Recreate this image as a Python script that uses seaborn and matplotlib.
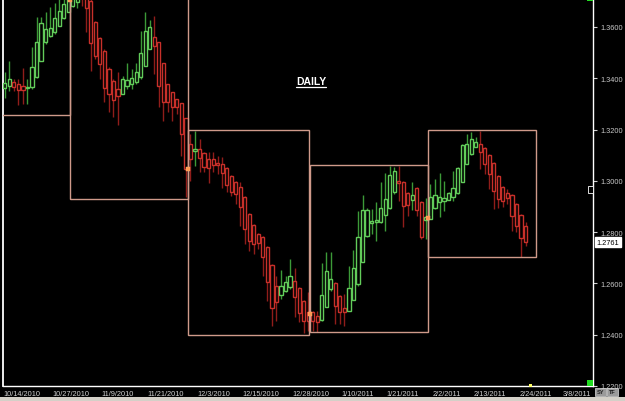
import numpy as np
import pandas as pd
import matplotlib
matplotlib.use('Agg')
import matplotlib.pyplot as plt
import seaborn as sns
from matplotlib.patches import Rectangle

# ---------------- data (EUR/USD daily candles) ----------------
opens = [1.3362, 1.3370, 1.3385, 1.3378, 1.3370, 1.3362, 1.3366, 1.3405, 1.3467, 1.3541,
         1.3565, 1.3580, 1.3604, 1.3635, 1.3658, 1.3682, 1.3697, 1.3732, 1.3717, 1.3701,
         1.3619, 1.3557, 1.3506, 1.3436, 1.3389, 1.3358, 1.3339, 1.3370, 1.3378, 1.3385,
         1.3405, 1.3448, 1.3514, 1.3561, 1.3541, 1.3459, 1.3378, 1.3346, 1.3319, 1.3303,
         1.3245, 1.3144, 1.3116, 1.3124, 1.3108, 1.3085, 1.3085, 1.3069, 1.3066, 1.3050,
         1.3019, 1.2995, 1.2976, 1.2937, 1.2871, 1.2828, 1.2793, 1.2781, 1.2742, 1.2672,
         1.2590, 1.2555, 1.2570, 1.2586, 1.2609, 1.2582, 1.2531, 1.2488, 1.2488, 1.2473,
         1.2457, 1.2508, 1.2578, 1.2601, 1.2551, 1.2504, 1.2492, 1.2535, 1.2598, 1.2683,
         1.2785, 1.2835, 1.2839, 1.2839, 1.2867, 1.2894, 1.2956, 1.2999, 1.2995, 1.2953,
         1.2925, 1.2972, 1.2917, 1.2847, 1.2851, 1.2894, 1.2917, 1.2921, 1.2925, 1.2937,
         1.2953, 1.2995, 1.3066, 1.3105, 1.3132, 1.3144, 1.3128, 1.3101, 1.3069, 1.3019,
         1.2976, 1.2953, 1.2945, 1.2910, 1.2867, 1.2824]
highs = [1.3424, 1.3467, 1.3397, 1.3397, 1.3440, 1.3397, 1.3522, 1.3639, 1.3639, 1.3658,
         1.3678, 1.3693, 1.3709, 1.3709, 1.3729, 1.3740, 1.3748, 1.3748, 1.3740, 1.3709,
         1.3623, 1.3561, 1.3514, 1.3444, 1.3397, 1.3424, 1.3409, 1.3459, 1.3436, 1.3459,
         1.3584, 1.3658, 1.3627, 1.3643, 1.3541, 1.3459, 1.3378, 1.3346, 1.3319, 1.3303,
         1.3245, 1.3183, 1.3194, 1.3163, 1.3112, 1.3112, 1.3112, 1.3097, 1.3093, 1.3054,
         1.3023, 1.2999, 1.2995, 1.2941, 1.2874, 1.2832, 1.2796, 1.2785, 1.2746, 1.2676,
         1.2629, 1.2652, 1.2629, 1.2695, 1.2660, 1.2586, 1.2535, 1.2566, 1.2492, 1.2492,
         1.2679, 1.2722, 1.2722, 1.2605, 1.2555, 1.2559, 1.2668, 1.2730, 1.2882, 1.2945,
         1.2894, 1.2890, 1.2917, 1.2995, 1.3030, 1.3058, 1.3054, 1.3058, 1.2999, 1.2956,
         1.2995, 1.2976, 1.2921, 1.2933, 1.2988, 1.3007, 1.3030, 1.2999, 1.2956, 1.3038,
         1.3054, 1.3144, 1.3183, 1.3190, 1.3171, 1.3194, 1.3132, 1.3105, 1.3073, 1.3023,
         1.2980, 1.2968, 1.2949, 1.2913, 1.2871, 1.2839]
lows = [1.3323, 1.3350, 1.3350, 1.3296, 1.3300, 1.3300, 1.3358, 1.3401, 1.3467, 1.3534,
        1.3561, 1.3573, 1.3604, 1.3631, 1.3658, 1.3678, 1.3674, 1.3682, 1.3580, 1.3428,
        1.3475, 1.3397, 1.3307, 1.3268, 1.3249, 1.3218, 1.3339, 1.3358, 1.3358, 1.3378,
        1.3397, 1.3448, 1.3514, 1.3417, 1.3288, 1.3233, 1.3268, 1.3233, 1.3261, 1.3097,
        1.2937, 1.2999, 1.3058, 1.3034, 1.3034, 1.2991, 1.3034, 1.3027, 1.2972, 1.2956,
        1.2941, 1.2910, 1.2824, 1.2754, 1.2726, 1.2714, 1.2734, 1.2629, 1.2531, 1.2434,
        1.2453, 1.2539, 1.2566, 1.2578, 1.2469, 1.2449, 1.2406, 1.2414, 1.2414, 1.2410,
        1.2453, 1.2508, 1.2570, 1.2442, 1.2442, 1.2434, 1.2492, 1.2535, 1.2590, 1.2683,
        1.2781, 1.2793, 1.2765, 1.2835, 1.2804, 1.2890, 1.2949, 1.2921, 1.2820, 1.2863,
        1.2886, 1.2863, 1.2773, 1.2773, 1.2851, 1.2890, 1.2859, 1.2882, 1.2925, 1.2921,
        1.2949, 1.2995, 1.3066, 1.3101, 1.3132, 1.3046, 1.3027, 1.2968, 1.2890, 1.2894,
        1.2898, 1.2910, 1.2804, 1.2800, 1.2703, 1.2746]
closes = [1.3381, 1.3397, 1.3366, 1.3354, 1.3354, 1.3366, 1.3444, 1.3541, 1.3615, 1.3592,
          1.3596, 1.3635, 1.3662, 1.3690, 1.3709, 1.3717, 1.3729, 1.3713, 1.3674, 1.3537,
          1.3487, 1.3456, 1.3362, 1.3339, 1.3315, 1.3331, 1.3397, 1.3393, 1.3401, 1.3424,
          1.3498, 1.3584, 1.3600, 1.3526, 1.3370, 1.3307, 1.3307, 1.3288, 1.3288, 1.3183,
          1.3046, 1.3085, 1.3124, 1.3089, 1.3054, 1.3050, 1.3062, 1.3062, 1.3030, 1.2984,
          1.2956, 1.2949, 1.2898, 1.2812, 1.2765, 1.2754, 1.2757, 1.2703, 1.2605, 1.2504,
          1.2527, 1.2590, 1.2605, 1.2629, 1.2547, 1.2484, 1.2453, 1.2453, 1.2453, 1.2449,
          1.2555, 1.2648, 1.2617, 1.2512, 1.2488, 1.2488, 1.2582, 1.2660, 1.2781, 1.2886,
          1.2886, 1.2843, 1.2847, 1.2894, 1.2929, 1.3023, 1.3038, 1.2991, 1.2902, 1.2906,
          1.2945, 1.2886, 1.2781, 1.2859, 1.2937, 1.2945, 1.2937, 1.2933, 1.2953, 1.2972,
          1.3050, 1.3140, 1.3144, 1.3163, 1.3151, 1.3112, 1.3066, 1.3027, 1.2960, 1.2929,
          1.2921, 1.2933, 1.2863, 1.2824, 1.2777, 1.2761]

date_tick_pos = [-0.4, 10.5, 21.4, 31.6, 42.5, 52.4, 63.5, 74.4, 84.2, 94.5, 103.6, 113.6, 123.3]
date_tick_labels = ["10/14/2010", "10/27/2010", "11/9/2010", "11/21/2010", "12/3/2010",
                    "12/15/2010", "12/28/2010", "1/10/2011", "1/21/2011", "2/2/2011",
                    "2/13/2011", "2/24/2011", "3/8/2011"]
price_ticks = [1.22, 1.24, 1.26, 1.28, 1.30, 1.32, 1.34, 1.36]

month_names = ["Oct", "Nov", "Dec", "Jan", "Feb"]
month_start = [-3.0, 14.4, 40.5, 67.4, 93.4]
month_end = [14.4, 40.5, 67.2, 93.4, 117.3]
month_high = [1.4000, 1.4280, 1.3198, 1.3062, 1.3198]
month_low = [1.3257, 1.2929, 1.2399, 1.2410, 1.2703]
month_open = [np.nan, 1.3705, 1.3046, 1.2481, 1.2855]
last_price = 1.2761
title_text = "DAILY"

# ---------------- style ----------------
sns.set_theme(style="dark", rc={"axes.facecolor": "black", "figure.facecolor": "black",
                                "axes.grid": False})
plt.rcParams['font.family'] = ['Liberation Sans', 'DejaVu Sans']

W, H = 625, 402
fig = plt.figure(figsize=(W / 100, H / 100), dpi=100)
fig.patch.set_facecolor('black')
ax = fig.add_axes([3 / W, 15 / H, 590 / W, 387 / H])
ax.set_facecolor('black')

df = pd.DataFrame({"o": opens, "h": highs, "l": lows, "c": closes})
df["i"] = np.arange(len(df))
bull = df["c"] >= df["o"]

body_edge = np.where(bull, '#62cc5a', '#c8302a')
wick_col = np.where(bull, '#3c9a38', '#901d1a')

# wicks
ax.vlines(df["i"], df["l"], df["h"], colors=wick_col, linewidth=1.0, zorder=2)
# bodies (hollow)
bottoms = np.minimum(df["o"], df["c"])
heights = np.maximum(np.abs(df["c"] - df["o"]), 0.0004)
ax.bar(df["i"], heights, bottom=bottoms, width=0.7, facecolor='black',
       edgecolor=body_edge, linewidth=1.0, zorder=3)

# monthly range boxes
box_col = '#cf9a8a'
for s, e, hi, lo in zip(month_start, month_end, month_high, month_low):
    ax.add_patch(Rectangle((s, lo), e - s, hi - lo, fill=False, edgecolor=box_col,
                           linewidth=1.0, zorder=4))

# monthly open markers
mo = pd.DataFrame({"x": month_start, "y": month_open, "m": month_names}).dropna()
sns.scatterplot(data=mo, x="x", y="y", ax=ax, color='#ff9950', marker='s', s=9,
                edgecolor='#ffb070', linewidth=0.3, zorder=5, legend=False)

ax.set_xlim(-0.375, 129.9)
ax.set_ylim(1.22, 1.3709)
ax.set_xlabel("")
ax.set_ylabel("")

# axes
ax.spines['top'].set_visible(False)
for side in ['left', 'right', 'bottom']:
    ax.spines[side].set_visible(True)
    ax.spines[side].set_color('white')
    ax.spines[side].set_linewidth(1.0)
ax.spines['left'].set_linewidth(1.3)

ax.yaxis.tick_right()
ax.set_yticks(price_ticks, [f"{v:.4f}" for v in price_ticks])
ax.tick_params(axis='y', which='major', direction='out', length=3, width=0.8,
               color='#d0d0d0', pad=2, labelsize=5.3, labelcolor='#c8c8c8',
               left=False, right=True)
ax.set_xticks(date_tick_pos, date_tick_labels)
for lab in ax.get_xticklabels():
    lab.set_ha('left')
ax.tick_params(axis='x', which='major', direction='inout', length=4, width=0.8,
               color='#d0d0d0', pad=1, labelsize=5.3, labelcolor='#d0d0d0')

# title
ax.text(0.522, 0.788, title_text, transform=ax.transAxes, ha='center', va='center',
        color='white', fontsize=7.5, fontweight='bold')
ax.plot([0.497, 0.548], [0.772, 0.772], transform=ax.transAxes, color='white',
        linewidth=0.9, clip_on=False)

# last price label
ax.text(1.006, last_price, f"{last_price:.4f}", transform=ax.get_yaxis_transform(),
        ha='left', va='center', color='black', fontsize=5.3,
        bbox=dict(facecolor='white', edgecolor='white', pad=1.2), clip_on=False)

# decorations in pixel space (platform UI widgets)
ov = fig.add_axes([0, 0, 1, 1])
ov.set_xlim(0, W)
ov.set_ylim(H, 0)
ov.axis('off')
ov.patch.set_alpha(0)
ov.add_patch(Rectangle((587, 381), 6, 6, facecolor='#22dd22', edgecolor='none'))
ov.add_patch(Rectangle((587, -3), 6, 5, facecolor='#22dd22', edgecolor='none'))
ov.add_patch(Rectangle((528.5, 384.5), 3, 3, facecolor='#ffff66', edgecolor='none'))
ov.add_patch(Rectangle((587.5, 186.5), 5, 7, facecolor='black', edgecolor='white', linewidth=0.6))
ov.add_patch(Rectangle((0, 398), W, 4, facecolor='#d4d0c8', edgecolor='none'))
ov.add_patch(Rectangle((595, 389), 11, 8, facecolor='#9a9a9a', edgecolor='#dddddd', linewidth=0.5))
ov.add_patch(Rectangle((607, 389), 11, 8, facecolor='#9a9a9a', edgecolor='#dddddd', linewidth=0.5))
ov.text(600.5, 393, "SY", ha='center', va='center', fontsize=4, color='#202020', fontweight='bold')
ov.text(612.5, 393, "TF", ha='center', va='center', fontsize=4, color='#202020', fontweight='bold')

fig.savefig("out.png", dpi=100, facecolor='black')
